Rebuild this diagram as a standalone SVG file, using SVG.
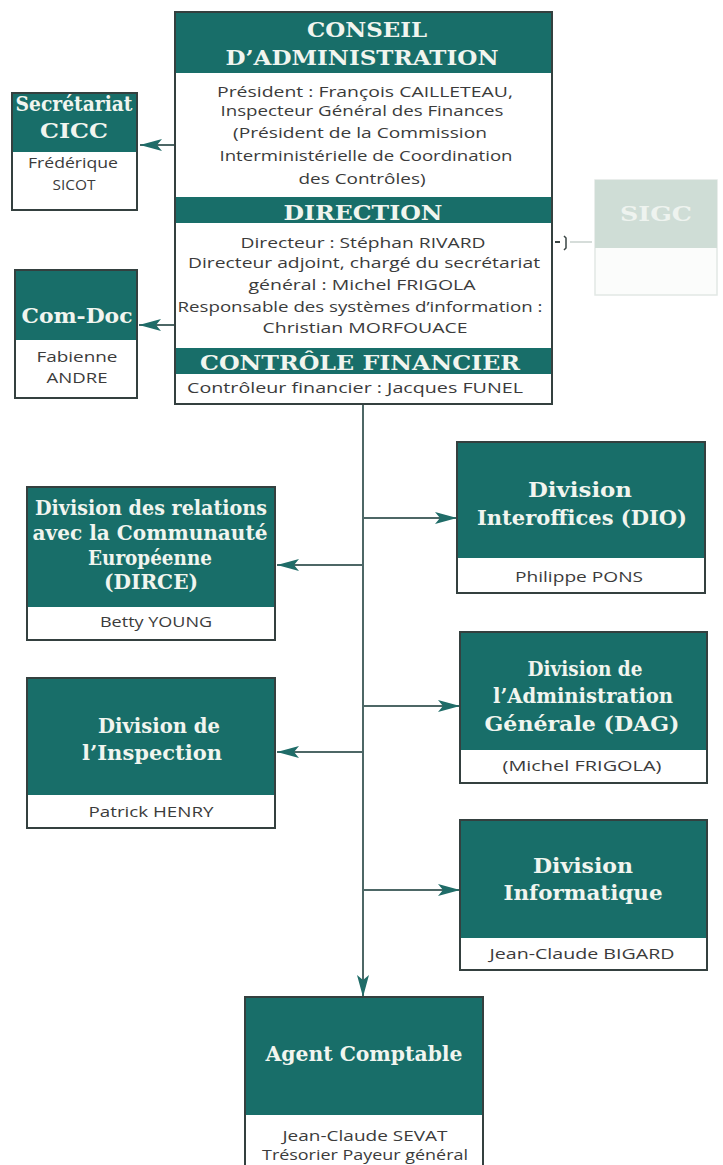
<svg xmlns="http://www.w3.org/2000/svg" width="723" height="1165" viewBox="0 0 723 1165">
<style>
.hdr{font-family:"DejaVu Serif","Liberation Serif",serif;font-weight:bold;fill:#f1f5ef;text-anchor:middle;font-size:21px}
.txt{font-family:"Open Sans","Liberation Sans",sans-serif;fill:#3b3b3b;text-anchor:middle;font-size:15px}
.body{fill:#ffffff}
.head{fill:#186e69}
.frame{fill:none;stroke:#34403f;stroke-width:2}
.conn{stroke:#4d6766;stroke-width:2;fill:none}
</style>
<defs>
<marker id="ah" viewBox="0 0 22 12" refX="22" refY="6" markerWidth="22" markerHeight="12" markerUnits="userSpaceOnUse" orient="auto">
<path d="M0,0 L22,6 L0,12 L5,6 Z" fill="#1f6c68"/>
</marker>
</defs>
<rect width="723" height="1165" fill="#ffffff"/>

<g id="connectors">
<line class="conn" x1="175" y1="145" x2="140" y2="145" marker-end="url(#ah)"/>
<line class="conn" x1="175" y1="325" x2="139" y2="325" marker-end="url(#ah)"/>
<line class="conn" x1="363" y1="404" x2="363" y2="997" marker-end="url(#ah)"/>
<line class="conn" x1="363" y1="518" x2="457" y2="518" marker-end="url(#ah)"/>
<line class="conn" x1="363" y1="565" x2="277" y2="565" marker-end="url(#ah)"/>
<line class="conn" x1="363" y1="706" x2="460" y2="706" marker-end="url(#ah)"/>
<line class="conn" x1="363" y1="752" x2="277" y2="752" marker-end="url(#ah)"/>
<line class="conn" x1="363" y1="890" x2="460" y2="890" marker-end="url(#ah)"/>
<line x1="555" y1="242" x2="560" y2="242" stroke="#3a4544" stroke-width="2"/>
<path d="M564,236 L566,238 L566,248 L564,250" stroke="#3a4544" stroke-width="1.5" fill="none"/>
<line x1="570" y1="242" x2="592" y2="242" stroke="#c9d2ce" stroke-width="1.5"/>
</g>

<g id="main">
<rect class="body" x="175" y="12" width="377" height="392"/>
<rect class="head" x="175" y="12" width="377" height="61"/>
<rect class="head" x="175" y="197" width="377" height="26"/>
<rect class="head" x="175" y="348" width="377" height="26"/>
<rect class="frame" x="175" y="12" width="377" height="392"/>
<text class="hdr" x="367" y="37" font-size="22" textLength="120" lengthAdjust="spacingAndGlyphs">CONSEIL</text>
<text class="hdr" x="362" y="65" font-size="22" textLength="273" lengthAdjust="spacingAndGlyphs">D’ADMINISTRATION</text>
<text class="txt" x="365" y="97" textLength="296" lengthAdjust="spacingAndGlyphs">Président : François CAILLETEAU,</text>
<text class="txt" x="362" y="116" textLength="283" lengthAdjust="spacingAndGlyphs">Inspecteur Général des Finances</text>
<text class="txt" x="360" y="138" textLength="254" lengthAdjust="spacingAndGlyphs">(Président de la Commission</text>
<text class="txt" x="366" y="161" textLength="293" lengthAdjust="spacingAndGlyphs">Interministérielle de Coordination</text>
<text class="txt" x="362" y="184" textLength="127" lengthAdjust="spacingAndGlyphs">des Contrôles)</text>
<text class="hdr" x="363" y="220" textLength="159" lengthAdjust="spacingAndGlyphs">DIRECTION</text>
<text class="txt" x="363" y="248" textLength="245" lengthAdjust="spacingAndGlyphs">Directeur : Stéphan RIVARD</text>
<text class="txt" x="364" y="268" textLength="352" lengthAdjust="spacingAndGlyphs">Directeur adjoint, chargé du secrétariat</text>
<text class="txt" x="362" y="290" textLength="227" lengthAdjust="spacingAndGlyphs">général : Michel FRIGOLA</text>
<text class="txt" x="360" y="312" textLength="365" lengthAdjust="spacingAndGlyphs">Responsable des systèmes d’information :</text>
<text class="txt" x="365" y="333" textLength="205" lengthAdjust="spacingAndGlyphs">Christian MORFOUACE</text>
<text class="hdr" x="360" y="370" textLength="320" lengthAdjust="spacingAndGlyphs">CONTRÔLE FINANCIER</text>
<text class="txt" x="355" y="393" textLength="336" lengthAdjust="spacingAndGlyphs">Contrôleur financier : Jacques FUNEL</text>
</g>

<g id="secretariat">
<rect class="body" x="12" y="93" width="125" height="117"/>
<rect class="head" x="12" y="93" width="125" height="59"/>
<rect class="frame" x="12" y="93" width="125" height="117"/>
<text class="hdr" x="74" y="111" font-size="19" textLength="117" lengthAdjust="spacingAndGlyphs">Secrétariat</text>
<text class="hdr" x="74" y="138" font-size="20" textLength="68" lengthAdjust="spacingAndGlyphs">CICC</text>
<text class="txt" x="73" y="168" textLength="90" lengthAdjust="spacingAndGlyphs">Frédérique</text>
<text class="txt" x="74" y="190" textLength="43" lengthAdjust="spacingAndGlyphs">SICOT</text>
</g>

<g id="comdoc">
<rect class="body" x="15" y="270" width="122" height="128"/>
<rect class="head" x="15" y="270" width="122" height="70"/>
<rect class="frame" x="15" y="270" width="122" height="128"/>
<text class="hdr" x="77" y="323" textLength="111" lengthAdjust="spacingAndGlyphs">Com-Doc</text>
<text class="txt" x="77" y="362" textLength="81" lengthAdjust="spacingAndGlyphs">Fabienne</text>
<text class="txt" x="77" y="383" textLength="61" lengthAdjust="spacingAndGlyphs">ANDRE</text>
</g>

<g id="sigc">
<rect x="595" y="180" width="122" height="115" fill="#fbfcfb" stroke="#e2e8e5" stroke-width="1.5"/>
<rect x="595" y="180" width="122" height="68" fill="#cfddd6"/>
<text class="hdr" x="656" y="221" style="fill:#eef3ef" textLength="72" lengthAdjust="spacingAndGlyphs">SIGC</text>
</g>

<g id="dirce">
<rect class="body" x="27" y="487" width="248" height="153"/>
<rect class="head" x="27" y="487" width="248" height="120"/>
<rect class="frame" x="27" y="487" width="248" height="153"/>
<text class="hdr" x="151" y="515" textLength="232" lengthAdjust="spacingAndGlyphs">Division des relations</text>
<text class="hdr" x="150" y="540" textLength="235" lengthAdjust="spacingAndGlyphs">avec la Communauté</text>
<text class="hdr" x="150" y="565" textLength="124" lengthAdjust="spacingAndGlyphs">Européenne</text>
<text class="hdr" x="151" y="589" textLength="94" lengthAdjust="spacingAndGlyphs">(DIRCE)</text>
<text class="txt" x="156" y="627" textLength="112" lengthAdjust="spacingAndGlyphs">Betty YOUNG</text>
</g>

<g id="inspection">
<rect class="body" x="27" y="678" width="248" height="150"/>
<rect class="head" x="27" y="678" width="248" height="117"/>
<rect class="frame" x="27" y="678" width="248" height="150"/>
<text class="hdr" x="159" y="733" font-size="22" textLength="122" lengthAdjust="spacingAndGlyphs">Division de</text>
<text class="hdr" x="152" y="760" font-size="22" textLength="140" lengthAdjust="spacingAndGlyphs">l’Inspection</text>
<text class="txt" x="151" y="817" textLength="125" lengthAdjust="spacingAndGlyphs">Patrick HENRY</text>
</g>

<g id="dio">
<rect class="body" x="457" y="442" width="248" height="151"/>
<rect class="head" x="457" y="442" width="248" height="116"/>
<rect class="frame" x="457" y="442" width="248" height="151"/>
<text class="hdr" x="580" y="497" font-size="22" textLength="104" lengthAdjust="spacingAndGlyphs">Division</text>
<text class="hdr" x="582" y="525" font-size="22" textLength="210" lengthAdjust="spacingAndGlyphs">Interoffices (DIO)</text>
<text class="txt" x="579" y="582" textLength="128" lengthAdjust="spacingAndGlyphs">Philippe PONS</text>
</g>

<g id="dag">
<rect class="body" x="460" y="632" width="247" height="151"/>
<rect class="head" x="460" y="632" width="247" height="118"/>
<rect class="frame" x="460" y="632" width="247" height="151"/>
<text class="hdr" x="585" y="676" font-size="22" textLength="115" lengthAdjust="spacingAndGlyphs">Division de</text>
<text class="hdr" x="583" y="703" font-size="22" textLength="180" lengthAdjust="spacingAndGlyphs">l’Administration</text>
<text class="hdr" x="582" y="731" font-size="22" textLength="195" lengthAdjust="spacingAndGlyphs">Générale  (DAG)</text>
<text class="txt" x="582" y="771" textLength="159" lengthAdjust="spacingAndGlyphs">(Michel FRIGOLA)</text>
</g>

<g id="informatique">
<rect class="body" x="460" y="820" width="247" height="150"/>
<rect class="head" x="460" y="820" width="247" height="118"/>
<rect class="frame" x="460" y="820" width="247" height="150"/>
<text class="hdr" x="583" y="873" font-size="22" textLength="100" lengthAdjust="spacingAndGlyphs">Division</text>
<text class="hdr" x="583" y="900" font-size="22" textLength="159" lengthAdjust="spacingAndGlyphs">Informatique</text>
<text class="txt" x="582" y="959" textLength="185" lengthAdjust="spacingAndGlyphs">Jean-Claude BIGARD</text>
</g>

<g id="agent">
<rect class="body" x="245" y="997" width="238" height="170"/>
<rect class="head" x="245" y="997" width="238" height="118"/>
<rect class="frame" x="245" y="997" width="238" height="170"/>
<text class="hdr" x="364" y="1061" font-size="22" textLength="197" lengthAdjust="spacingAndGlyphs">Agent Comptable</text>
<text class="txt" x="365" y="1141" font-size="14" textLength="165" lengthAdjust="spacingAndGlyphs">Jean-Claude SEVAT</text>
<text class="txt" x="365" y="1160" font-size="14" textLength="206" lengthAdjust="spacingAndGlyphs">Trésorier Payeur général</text>
</g>
</svg>
